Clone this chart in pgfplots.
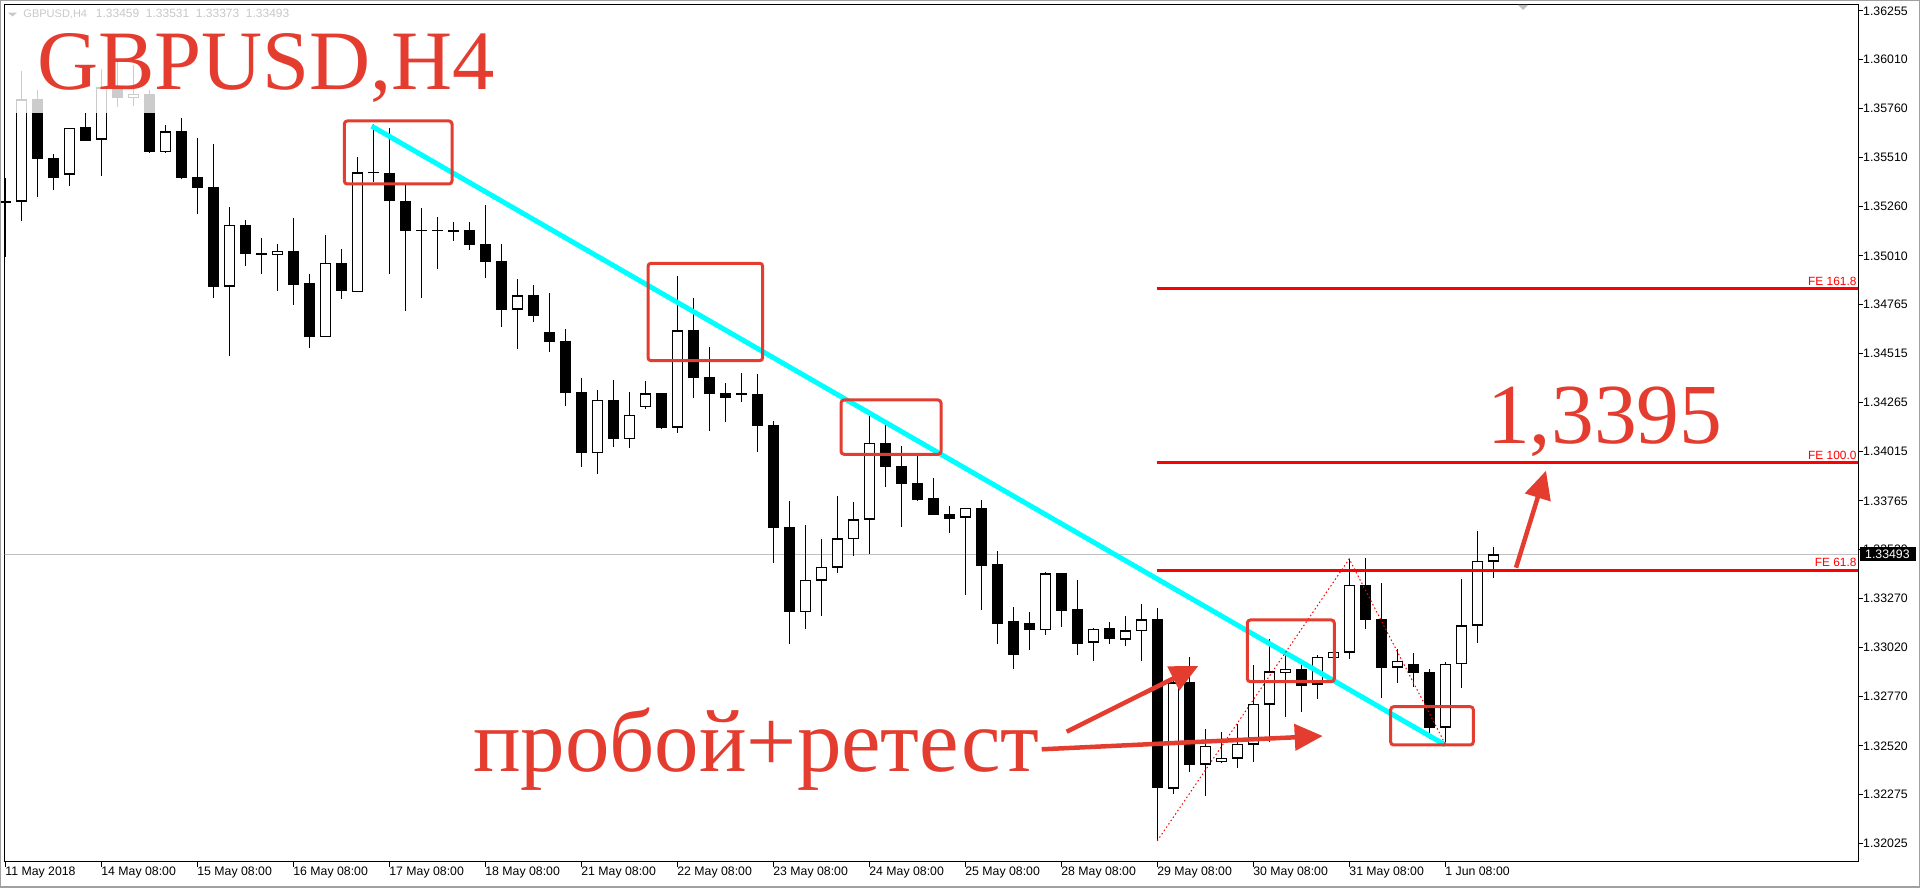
\documentclass[border=0pt]{standalone}
\usepackage{pgfplots}
\pgfplotsset{compat=1.18}
\usepackage{pgfplotstable}
\usepackage{fontspec}
\setmainfont{Liberation Sans}
\newfontfamily\serif{Liberation Serif}
\usetikzlibrary{arrows.meta}

\definecolor{annot}{RGB}{228,61,48}
\definecolor{aqua}{RGB}{0,255,255}
\definecolor{pricegray}{RGB}{192,192,192}
\definecolor{hdrgray}{RGB}{200,200,200}
\definecolor{fered}{RGB}{255,0,0}
\definecolor{framegray}{RGB}{160,160,160}

% GBPUSD H4 candles, index = bar number from 11 May 2018
\pgfplotstableread{
i o h l c
0 1.35282 1.35407 1.35005 1.35285
1 1.35287 1.35949 1.35188 1.35805
2 1.35805 1.35852 1.35310 1.35503
3 1.35505 1.35527 1.35344 1.35407
4 1.35424 1.35660 1.35366 1.35658
5 1.35663 1.35734 1.35595 1.35598
6 1.35602 1.35962 1.35417 1.35866
7 1.35866 1.35996 1.35764 1.35813
8 1.35813 1.35979 1.35772 1.35830
9 1.35832 1.35852 1.35534 1.35539
10 1.35539 1.35674 1.35534 1.35642
11 1.35642 1.35710 1.35400 1.35407
12 1.35409 1.35608 1.35224 1.35356
13 1.35358 1.35581 1.34797 1.34853
14 1.34855 1.35256 1.34502 1.35165
15 1.35165 1.35192 1.34960 1.35021
16 1.35020 1.35100 1.34919 1.35018
17 1.35017 1.35070 1.34833 1.35033
18 1.35034 1.35202 1.34762 1.34863
19 1.34870 1.34921 1.34543 1.34599
20 1.34599 1.35116 1.34597 1.34972
21 1.34972 1.35045 1.34792 1.34833
22 1.34828 1.35512 1.34826 1.35434
23 1.35434 1.35683 1.35386 1.35434
24 1.35429 1.35658 1.34918 1.35290
25 1.35288 1.35368 1.34731 1.35137
26 1.35137 1.35256 1.34797 1.35137
27 1.35139 1.35206 1.34944 1.35139
28 1.35137 1.35180 1.35084 1.35136
29 1.35141 1.35180 1.35041 1.35066
30 1.35068 1.35268 1.34896 1.34980
31 1.34982 1.35073 1.34650 1.34736
32 1.34738 1.34891 1.34538 1.34806
33 1.34806 1.34862 1.34675 1.34706
34 1.34618 1.34819 1.34523 1.34574
35 1.34577 1.34637 1.34248 1.34315
36 1.34318 1.34388 1.33939 1.34010
37 1.34010 1.34328 1.33900 1.34277
38 1.34277 1.34379 1.34040 1.34081
39 1.34081 1.34318 1.34035 1.34200
40 1.34243 1.34374 1.34233 1.34311
41 1.34311 1.34313 1.34130 1.34137
42 1.34139 1.34907 1.34111 1.34631
43 1.34631 1.34794 1.34289 1.34391
44 1.34393 1.34547 1.34121 1.34309
45 1.34311 1.34362 1.34167 1.34291
46 1.34308 1.34415 1.34269 1.34307
47 1.34307 1.34410 1.34015 1.34147
48 1.34150 1.34172 1.33451 1.33629
49 1.33631 1.33763 1.33039 1.33202
50 1.33202 1.33642 1.33116 1.33361
51 1.33361 1.33575 1.33182 1.33428
52 1.33428 1.33790 1.33400 1.33573
53 1.33573 1.33759 1.33486 1.33671
54 1.33671 1.34205 1.33495 1.34057
55 1.34057 1.34162 1.33837 1.33939
56 1.33942 1.34044 1.33634 1.33852
57 1.33854 1.34007 1.33764 1.33774
58 1.33778 1.33880 1.33694 1.33695
59 1.33695 1.33739 1.33603 1.33674
60 1.33682 1.33729 1.33287 1.33727
61 1.33724 1.33769 1.33211 1.33439
62 1.33444 1.33510 1.33038 1.33141
63 1.33150 1.33227 1.32912 1.32982
64 1.33140 1.33200 1.33007 1.33111
65 1.33111 1.33404 1.33084 1.33394
66 1.33394 1.33396 1.33126 1.33206
67 1.33211 1.33363 1.32982 1.33039
68 1.33047 1.33118 1.32953 1.33113
69 1.33114 1.33150 1.33039 1.33065
70 1.33062 1.33180 1.33028 1.33105
71 1.33105 1.33241 1.32953 1.33161
72 1.33163 1.33222 1.32037 1.32308
73 1.32305 1.32906 1.32279 1.32843
74 1.32843 1.32973 1.32389 1.32427
75 1.32427 1.32605 1.32267 1.32518
76 1.32440 1.32592 1.32432 1.32457
77 1.32457 1.32635 1.32410 1.32528
78 1.32528 1.32930 1.32440 1.32732
79 1.32732 1.33062 1.32542 1.32899
80 1.32894 1.33004 1.32669 1.32909
81 1.32909 1.32936 1.32694 1.32826
82 1.32833 1.32981 1.32760 1.32970
83 1.32970 1.32998 1.32968 1.32996
84 1.32996 1.33470 1.32962 1.33336
85 1.33336 1.33475 1.33116 1.33161
86 1.33163 1.33346 1.32765 1.32918
87 1.32920 1.33013 1.32841 1.32950
88 1.32935 1.32991 1.32821 1.32892
89 1.32894 1.32912 1.32557 1.32615
90 1.32615 1.32948 1.32530 1.32935
91 1.32940 1.33368 1.32816 1.33133
92 1.33133 1.33613 1.33045 1.33458
93 1.33459 1.33531 1.33373 1.33493
}\candles

\pgfplotsset{nomark/.style={only marks, mark=*, mark size=0pt, mark options={draw=none, fill=none}}}

\begin{document}
\begin{tikzpicture}
\path[use as bounding box] (-4.7pt,-26pt) rectangle (1915.3pt,862pt);
\begin{axis}[
  at={(0pt,0pt)}, anchor=south west, scale only axis,
  width=1853.3pt, height=857.5pt,
  xmin=-0.03, xmax=115.8, ymin=1.31930, ymax=1.36287,
  axis line style={line width=1pt, black},
  tick align=outside, major tick length=5pt,
  major tick style={line width=1pt, black},
  xtick pos=left, ytick pos=right, yticklabel pos=right,
  xtick={0,6,...,90},
  xticklabels={11 May 2018,14 May 08:00,15 May 08:00,16 May 08:00,17 May 08:00,18 May 08:00,21 May 08:00,22 May 08:00,23 May 08:00,24 May 08:00,25 May 08:00,28 May 08:00,29 May 08:00,30 May 08:00,31 May 08:00,1 Jun 08:00},
  ytick={1.32025,1.32275,1.32520,1.32770,1.33020,1.33270,1.33520,1.33765,1.34015,1.34265,1.34515,1.34765,1.35010,1.35260,1.35510,1.35760,1.36010,1.36255},
  yticklabels={1.32025,1.32275,1.32520,1.32770,1.33020,1.33270,1.33520,1.33765,1.34015,1.34265,1.34515,1.34765,1.35010,1.35260,1.35510,1.35760,1.36010,1.36255},
  ticklabel style={font=\fontsize{12.3}{14}\selectfont},
  yticklabel style={anchor=west, inner sep=0pt},
  xticklabel style={anchor=north west, inner sep=0pt},
]
% current price line
\addplot[pricegray, line width=1pt] coordinates {(-1,1.33493) (117,1.33493)};
% wicks
\addplot[nomark, error bars/.cd, y dir=both, y explicit, error mark=none,
  error bar style={draw=black, line width=1pt}]
  table[x=i, y expr={(\thisrow{h}+\thisrow{l})/2}, y error expr={(\thisrow{h}-\thisrow{l})/2}] {\candles};
% bodies
\addplot[nomark, error bars/.cd, y dir=both, y explicit, error mark=none,
  error bar style={draw=black, line width=11pt}]
  table[x=i, y expr={(\thisrow{o}+\thisrow{c})/2}, y error expr={abs(\thisrow{c}-\thisrow{o})/2}] {\candles};
\addplot[nomark, error bars/.cd, y dir=both, y explicit, error mark=none,
  error bar style={draw=white, line width=9pt}]
  table[x=i, y expr={\thisrow{c}>\thisrow{o}+0.00012 ? (\thisrow{o}+\thisrow{c})/2 : nan},
        y error expr={(\thisrow{c}-\thisrow{o})/2-0.0000508}] {\candles};
\addplot[black, only marks, mark=-, mark size=5.5pt, mark options={line width=1pt}] table[x=i, y=o] {\candles};
\addplot[black, only marks, mark=-, mark size=5.5pt, mark options={line width=1pt}] table[x=i, y=c] {\candles};
% trend line
\addplot[aqua, line width=5pt] coordinates {(22.9,1.35669) (90.0,1.32525)};
% fibonacci expansion
\addplot[fered, line width=1pt, dash pattern=on 1.5pt off 2.5pt] coordinates {(72,1.32037) (84,1.33470) (90,1.32530)};
\addplot[fered, line width=3pt] coordinates {(71.97,1.34845) (117,1.34845)};
\addplot[fered, line width=3pt] coordinates {(71.97,1.33961) (117,1.33961)};
\addplot[fered, line width=3pt] coordinates {(71.97,1.33412) (117,1.33412)};
\end{axis}

\begin{scope}[x=1pt, y=-1pt, shift={(-4.7pt,862pt)}]
% overlay behind the title
\fill[white, opacity=0.8] (12,22) rectangle (495,113.3);
% outer frame
\draw[framegray, line width=1.5pt] (0.75,0.75) rectangle (1919.25,887.25);
% header
\fill[hdrgray] (8,12.7) -- (17,12.7) -- (12.5,16.5) -- cycle;
\fill[pricegray] (1518,5) -- (1528,5) -- (1523,10) -- cycle;
\begin{scope}[every node/.style={anchor=base west, inner sep=0pt, text=hdrgray}]
\node[font=\fontsize{11}{13}\selectfont] at (23.3,17.7) {GBPUSD,H4};
\node[font=\fontsize{12}{13}\selectfont] at (95.7,17.7) {1.33459};
\node[font=\fontsize{12}{13}\selectfont] at (145.7,17.7) {1.33531};
\node[font=\fontsize{12}{13}\selectfont] at (195.7,17.7) {1.33373};
\node[font=\fontsize{12}{13}\selectfont] at (245.7,17.7) {1.33493};
\end{scope}
% level labels
\begin{scope}[every node/.style={anchor=base east, inner sep=0pt, text=fered, font=\fontsize{11.9}{13}\selectfont}]
\node at (1856.7,286) {FE 161.8};
\node at (1856.7,459.3) {FE 100.0};
\node at (1856.7,566.5) {FE 61.8};
\end{scope}
% current price tag
\fill[black] (1860,547.3) rectangle (1915.7,561);
\node[anchor=west, inner sep=0pt, text=white, font=\fontsize{12.3}{14}\selectfont] at (1865,554.3) {1.33493};
% boxes
\begin{scope}[annot, line width=3pt, rounded corners=3pt]
\draw (344.3,121) rectangle (452,184);
\draw (648,263.3) rectangle (762.7,360.7);
\draw (841,400) rectangle (941,454.3);
\draw (1247.3,620) rectangle (1334.3,681.7);
\draw (1390.7,706.7) rectangle (1473.3,745);
\end{scope}
% arrows
\begin{scope}[annot, line width=4.5pt, -{Triangle[length=28pt, width=26pt]}]
\draw (1066.7,731.7) -- (1198.3,666);
\draw (1041.7,749.3) -- (1322.7,736);
\draw (1516,567.7) -- (1546,470.7);
\end{scope}
% big captions
\begin{scope}[every node/.style={anchor=base west, inner sep=0pt, text=annot}]
\node[font=\serif\fontsize{84.6}{90}\selectfont] at (36.8,89.3) {GBPUSD,H4};
\node[font=\serif\fontsize{85.5}{90}\selectfont] at (1487,444) {1,3395};
\node[font=\serif\fontsize{88.9}{94}\selectfont] at (473,771.7) {пробой+ретест};
\end{scope}
\end{scope}
\end{tikzpicture}
\end{document}
